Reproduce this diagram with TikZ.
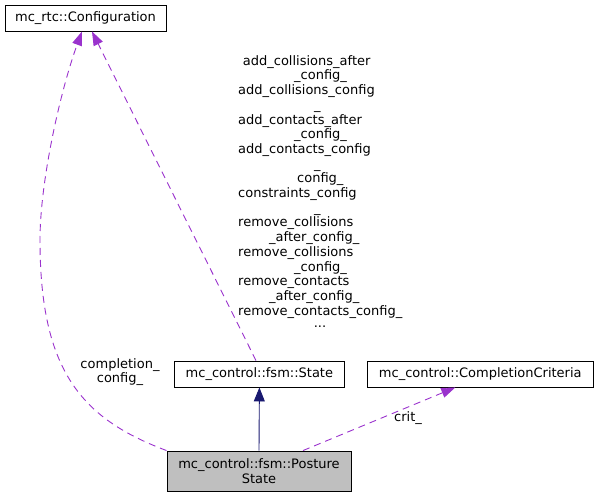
\documentclass[tikz,border=0pt]{standalone}
\usepackage{fontspec}
\setmainfont{DejaVu Sans}
\usetikzlibrary{arrows.meta}
\definecolor{depcol}{HTML}{9A32CD}
\definecolor{inhcol}{HTML}{191970}
\definecolor{boxfill}{HTML}{BFBFBF}
\begin{document}
\begin{tikzpicture}[x=1pt,y=-1pt,
  every node/.style={font=\fontsize{13}{14.7}\selectfont},
  cbox/.style={draw=black,line width=0.9pt,inner sep=0pt,align=center,fill=white},
  dep/.style={draw=depcol,line width=0.9pt,dash pattern=on 7pt off 5pt,
    -{Triangle[length=14pt,width=10pt,fill=depcol]}},
  inh/.style={draw=inhcol,line width=0.9pt,
    -{Triangle[length=14pt,width=11pt,fill=inhcol]}},
  lbl/.style={inner sep=0pt,anchor=west,text height=9.5pt,text depth=3pt},
  clbl/.style={inner sep=0pt,align=center}]
\useasboundingbox (0,0) rectangle (599,497);
\node[cbox,minimum width=161pt,minimum height=26pt] (conf) at (85.5,18) {mc\_rtc::Configuration};
\node[cbox,minimum width=169.5pt,minimum height=26pt] (state) at (259.4,374) {mc\_control::fsm::State};
\node[cbox,minimum width=225.5pt,minimum height=26pt] (crit) at (480.3,374) {mc\_control::CompletionCriteria};
\node[cbox,fill=boxfill,minimum width=184pt,minimum height=40pt] (ps) at (259,471) {mc\_control::fsm::Posture\\State};
% inheritance
\draw[inh] (ps.north) -- (state.south);
% completion_config_
\draw[dep] (ps.north west) .. controls (80.8,418.5) and (40,370) .. (40,240)
  .. controls (40,180) and (61.1,88.2) .. ([xshift=-3.5pt]conf.south);
\node[clbl] (lcc) at (120,372) {completion\_\\config\_};
% state configs
\draw[dep] ([xshift=-3.4pt]state.north) -- ([xshift=6.5pt]conf.south);
\node[lbl] (l0) at (242.7,62) {add\_collisions\_after};
\node[lbl] (l1) at (294,76.7) {\_config\_};
\node[lbl] (l2) at (238,91.4) {add\_collisions\_config};
\node[lbl] (l3) at (314,106.1) {\_};
\node[lbl] (l4) at (238,120.8) {add\_contacts\_after};
\node[lbl] (l5) at (294,135.5) {\_config\_};
\node[lbl] (l6) at (238,150.2) {add\_contacts\_config};
\node[lbl] (l7) at (314,164.9) {\_};
\node[lbl] (l8) at (297,179.6) {config\_};
\node[lbl] (l9) at (238,194.3) {constraints\_config};
\node[lbl] (l10) at (314,209) {\_};
\node[lbl] (l11) at (238,223.7) {remove\_collisions};
\node[lbl] (l12) at (269,238.4) {\_after\_config\_};
\node[lbl] (l13) at (238,253.1) {remove\_collisions};
\node[lbl] (l14) at (294,267.8) {\_config\_};
\node[lbl] (l15) at (238,282.5) {remove\_contacts};
\node[lbl] (l16) at (269,297.2) {\_after\_config\_};
\node[lbl] (l17) at (238,311.9) {remove\_contacts\_config\_};
\node[clbl] (l18) at (320,326.6) {...};
% crit_
\draw[dep] ([xshift=44pt]ps.north) -- ([xshift=-25pt]crit.south);
\node[clbl] (lcrit) at (408,418) {crit\_};
\end{tikzpicture}
\end{document}
